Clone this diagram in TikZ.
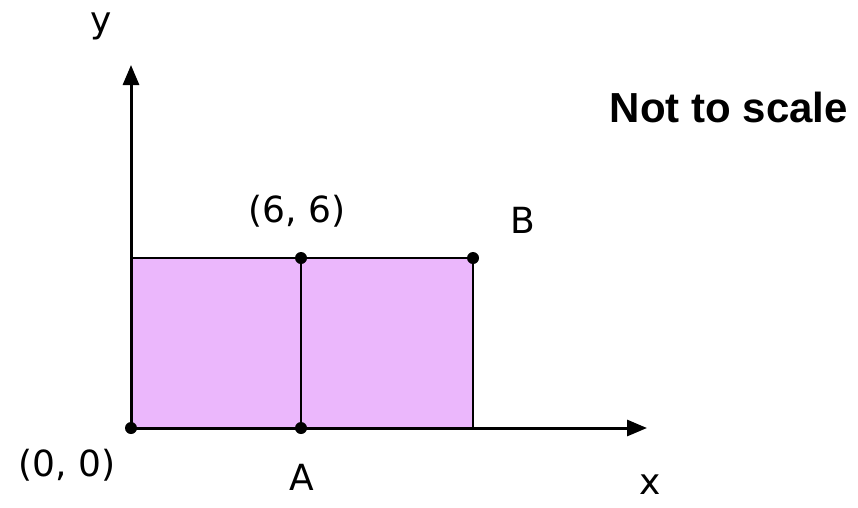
\documentclass[tikz,border=0pt]{standalone}
\usepackage{fontspec}
\newfontfamily\lblfont{DejaVu Sans}
\newfontfamily\notefont{Liberation Sans}
\usetikzlibrary{arrows.meta}
\definecolor{lav}{RGB}{235,183,252}
\tikzset{
  dotpt/.style={circle,fill=black,inner sep=0pt,minimum size=12pt},
  lbl/.style={font=\lblfont\fontsize{36}{40}\selectfont,inner sep=0pt},
  axis/.style={line width=3pt,-{Triangle[length=20pt,width=16pt]}},
  edge/.style={line width=2pt}
}
\begin{document}
\begin{tikzpicture}[x=1pt,y=-1pt]
\useasboundingbox (0,0) rectangle (858,507);
% filled regions
\fill[lav] (131,258) rectangle (473,428);
% coordinates
\coordinate (O) at (131,428);
\coordinate (Yt) at (131,65);
\coordinate (Xt) at (647,428);
\coordinate (TL) at (131,258);
\coordinate (TM) at (301,258);
\coordinate (TR) at (473,258);
\coordinate (BM) at (301,428);
\coordinate (BR) at (473,428);
% edges
\draw[edge] (TL) -- (TM) -- (TR) -- (BR);
\draw[edge] (TM) -- (BM);
% axes
\draw[axis] (O) -- (Yt);
\draw[axis] (O) -- (Xt);
% dots
\node[dotpt] (d0) at (O) {};
\node[dotpt] (dA) at (BM) {};
\node[dotpt] (d6) at (TM) {};
\node[dotpt] (dB) at (TR) {};
% labels
\node[lbl] (ly) at (101,26) {y};
\node[lbl] (l66) at (297,211) {(6, 6)};
\node[lbl] (lB) at (523,220) {B};
\node[lbl] (l00) at (67,465) {(0, 0)};
\node[lbl] (lA) at (302,477) {A};
\node[lbl] (lx) at (650,485) {x};
\node[font=\notefont\bfseries\fontsize{42}{48}\selectfont,inner sep=0pt] (note) at (729,107) {Not to scale};
\end{tikzpicture}
\end{document}
